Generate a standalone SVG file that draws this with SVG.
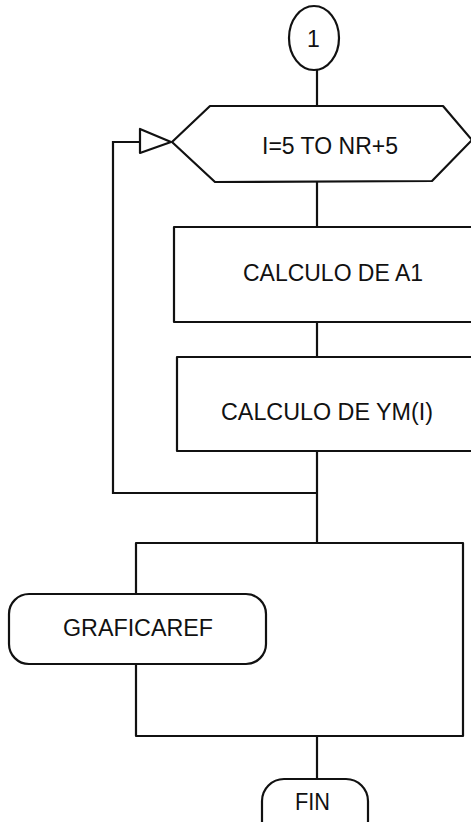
<svg xmlns="http://www.w3.org/2000/svg" width="471" height="822" viewBox="0 0 471 822">
<style>
.s{fill:#fff;stroke:#111;stroke-width:2.2;stroke-linejoin:round}
.c{fill:none;stroke:#111;stroke-width:2.2}
.t{font-family:"Liberation Sans",Arial,sans-serif;font-size:23px;fill:#111;text-anchor:start}
</style>
<rect width="471" height="822" fill="#fff"/>
<g id="connectors">
<line class="c" x1="317" y1="70" x2="317" y2="106"/>
<line class="c" x1="317" y1="181" x2="317" y2="227"/>
<line class="c" x1="317" y1="322" x2="317" y2="357"/>
<line class="c" x1="317" y1="451" x2="317" y2="543"/>
<polyline class="c" points="317,493 113,493 113,142 140,142"/>
<polygon class="s" points="140,129 140,153 171,142"/>
<line class="c" x1="317" y1="736" x2="317" y2="779"/>
</g>
<g id="n1">
<ellipse class="s" cx="314" cy="38" rx="25" ry="32"/>
<text class="t" x="307" y="47">1</text>
</g>
<g id="loop">
<polygon class="s" points="210,106 443,106 472,140 432,181 215,182 172,142"/>
<text class="t" x="262" y="154" textLength="136" lengthAdjust="spacingAndGlyphs">I=5 TO NR+5</text>
</g>
<g id="calcA1">
<rect class="s" x="174" y="227" width="310" height="95"/>
<text class="t" x="243" y="281" textLength="180" lengthAdjust="spacingAndGlyphs">CALCULO DE A1</text>
</g>
<g id="calcYM">
<rect class="s" x="177" y="357" width="310" height="94"/>
<text class="t" x="221" y="420" textLength="212" lengthAdjust="spacingAndGlyphs">CALCULO DE YM(I)</text>
</g>
<g id="block">
<rect class="s" x="136" y="543" width="327" height="193"/>
</g>
<g id="graficaref">
<rect class="s" x="9" y="594" width="257" height="70" rx="20" ry="20"/>
<text class="t" x="63" y="636" textLength="150" lengthAdjust="spacingAndGlyphs">GRAFICAREF</text>
</g>
<g id="fin">
<rect class="s" x="262" y="779" width="106" height="64" rx="22" ry="22"/>
<text class="t" x="295" y="810" textLength="35" lengthAdjust="spacingAndGlyphs">FIN</text>
</g>
</svg>
